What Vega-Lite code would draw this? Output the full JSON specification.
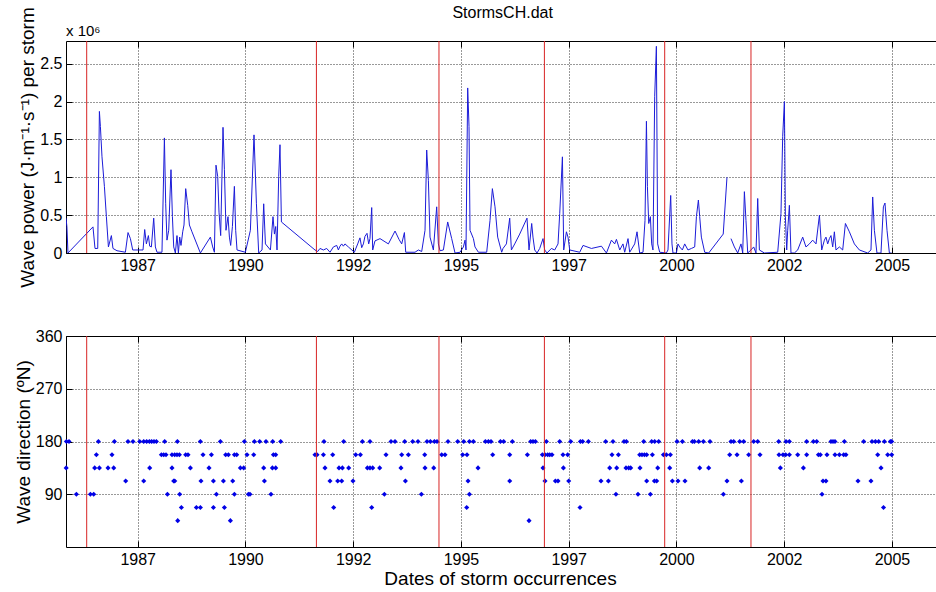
{
  "$schema": "https://vega.github.io/schema/vega-lite/v6.json",
  "background": "white",
  "padding": {"left": 13, "top": 5, "right": 0, "bottom": 0},
  "title": {"text": "StormsCH.dat", "fontSize": 16, "fontWeight": "normal", "font": "Liberation Sans", "color": "#000", "anchor": "middle", "baseline": "alphabetic", "dx": 27, "offset": -28},
  "bounds": "flush",
  "spacing": 83,
  "datasets": {
    "power": [
      {"year": 1985.836, "power": 460000}, {"year": 1985.857, "power": 350000}, {"year": 1985.882, "power": 0},
      {"year": 1986.462, "power": 345000}, {"year": 1986.509, "power": 60000}, {"year": 1986.572, "power": 60000},
      {"year": 1986.611, "power": 1870000}, {"year": 1986.634, "power": 1670000}, {"year": 1986.671, "power": 1270000},
      {"year": 1986.727, "power": 880000}, {"year": 1986.773, "power": 480000}, {"year": 1986.820, "power": 80000},
      {"year": 1986.889, "power": 230000}, {"year": 1986.926, "power": 60000}, {"year": 1987.019, "power": 30000},
      {"year": 1987.214, "power": 10000}, {"year": 1987.275, "power": 270000}, {"year": 1987.330, "power": 190000},
      {"year": 1987.384, "power": 40000}, {"year": 1987.523, "power": 40000}, {"year": 1987.623, "power": 40000},
      {"year": 1987.662, "power": 310000}, {"year": 1987.701, "power": 120000}, {"year": 1987.748, "power": 230000},
      {"year": 1987.778, "power": 90000}, {"year": 1987.817, "power": 80000}, {"year": 1987.871, "power": 460000},
      {"year": 1987.910, "power": 80000}, {"year": 1987.947, "power": 10000}, {"year": 1988.063, "power": 10000},
      {"year": 1988.119, "power": 1520000}, {"year": 1988.149, "power": 650000}, {"year": 1988.179, "power": 170000},
      {"year": 1988.219, "power": 300000}, {"year": 1988.272, "power": 1100000}, {"year": 1988.305, "power": 480000},
      {"year": 1988.335, "power": 80000}, {"year": 1988.374, "power": 0}, {"year": 1988.411, "power": 230000},
      {"year": 1988.444, "power": 0}, {"year": 1988.474, "power": 210000}, {"year": 1988.504, "power": 100000},
      {"year": 1988.544, "power": 280000}, {"year": 1988.574, "power": 370000}, {"year": 1988.613, "power": 850000},
      {"year": 1988.660, "power": 630000}, {"year": 1988.699, "power": 370000}, {"year": 1988.759, "power": 280000},
      {"year": 1988.954, "power": 0}, {"year": 1989.186, "power": 210000}, {"year": 1989.240, "power": 80000},
      {"year": 1989.279, "power": 10000}, {"year": 1989.316, "power": 1160000}, {"year": 1989.356, "power": 1010000},
      {"year": 1989.386, "power": 540000}, {"year": 1989.425, "power": 230000}, {"year": 1989.479, "power": 1660000},
      {"year": 1989.511, "power": 1100000}, {"year": 1989.548, "power": 300000}, {"year": 1989.595, "power": 480000},
      {"year": 1989.627, "power": 210000}, {"year": 1989.657, "power": 100000}, {"year": 1989.697, "power": 350000},
      {"year": 1989.743, "power": 880000}, {"year": 1989.773, "power": 300000}, {"year": 1989.804, "power": 40000},
      {"year": 1989.998, "power": 10000}, {"year": 1990.114, "power": 300000}, {"year": 1990.198, "power": 1560000},
      {"year": 1990.254, "power": 650000}, {"year": 1990.307, "power": 0}, {"year": 1990.384, "power": 40000},
      {"year": 1990.423, "power": 650000}, {"year": 1990.463, "power": 120000}, {"year": 1990.579, "power": 40000},
      {"year": 1990.639, "power": 480000}, {"year": 1990.672, "power": 250000}, {"year": 1990.702, "power": 350000},
      {"year": 1990.732, "power": 40000}, {"year": 1990.771, "power": 1010000}, {"year": 1990.801, "power": 1430000},
      {"year": 1990.834, "power": 410000}, {"year": 1991.613, "power": 40000}, {"year": 1991.676, "power": 20000},
      {"year": 1991.729, "power": 60000}, {"year": 1991.808, "power": 40000}, {"year": 1991.885, "power": 60000},
      {"year": 1991.961, "power": 10000}, {"year": 1992.040, "power": 80000}, {"year": 1992.117, "power": 100000},
      {"year": 1992.156, "power": 40000}, {"year": 1992.193, "power": 90000}, {"year": 1992.233, "power": 120000},
      {"year": 1992.272, "power": 90000}, {"year": 1992.309, "power": 120000}, {"year": 1992.388, "power": 80000},
      {"year": 1992.527, "power": 10000}, {"year": 1992.604, "power": 120000}, {"year": 1992.657, "power": 200000},
      {"year": 1992.697, "power": 70000}, {"year": 1992.736, "power": 120000}, {"year": 1992.773, "power": 220000},
      {"year": 1992.820, "power": 260000}, {"year": 1992.859, "power": 120000}, {"year": 1992.889, "power": 190000},
      {"year": 1992.929, "power": 600000}, {"year": 1992.952, "power": 40000}, {"year": 1993.005, "power": 160000},
      {"year": 1993.122, "power": 190000}, {"year": 1993.316, "power": 120000}, {"year": 1993.470, "power": 290000},
      {"year": 1993.562, "power": 180000}, {"year": 1993.625, "power": 120000}, {"year": 1993.688, "power": 270000},
      {"year": 1993.718, "power": 10000}, {"year": 1993.934, "power": 10000}, {"year": 1994.012, "power": 40000},
      {"year": 1994.089, "power": 20000}, {"year": 1994.166, "power": 300000}, {"year": 1994.205, "power": 1360000},
      {"year": 1994.244, "power": 960000}, {"year": 1994.282, "power": 210000}, {"year": 1994.360, "power": 40000},
      {"year": 1994.437, "power": 610000}, {"year": 1994.476, "power": 120000}, {"year": 1994.514, "power": 30000},
      {"year": 1994.592, "power": 40000}, {"year": 1994.692, "power": 410000}, {"year": 1994.785, "power": 190000},
      {"year": 1994.862, "power": 0}, {"year": 1994.978, "power": 10000}, {"year": 1995.057, "power": 80000},
      {"year": 1995.094, "power": 170000}, {"year": 1995.117, "power": 40000}, {"year": 1995.156, "power": 2180000},
      {"year": 1995.187, "power": 1670000}, {"year": 1995.210, "power": 300000}, {"year": 1995.289, "power": 190000},
      {"year": 1995.326, "power": 80000}, {"year": 1995.405, "power": 10000}, {"year": 1995.597, "power": 10000},
      {"year": 1995.674, "power": 430000}, {"year": 1995.729, "power": 850000}, {"year": 1995.790, "power": 610000},
      {"year": 1995.852, "power": 210000}, {"year": 1995.945, "power": 10000}, {"year": 1995.975, "power": 60000},
      {"year": 1996.054, "power": 120000}, {"year": 1996.131, "power": 460000}, {"year": 1996.170, "power": 40000},
      {"year": 1996.247, "power": 120000}, {"year": 1996.363, "power": 250000}, {"year": 1996.532, "power": 460000},
      {"year": 1996.579, "power": 40000}, {"year": 1996.641, "power": 390000}, {"year": 1996.671, "power": 210000},
      {"year": 1996.711, "power": 40000}, {"year": 1996.764, "power": 0}, {"year": 1996.827, "power": 60000},
      {"year": 1996.904, "power": 190000}, {"year": 1996.943, "power": 40000}, {"year": 1996.996, "power": 0},
      {"year": 1997.098, "power": 60000}, {"year": 1997.175, "power": 40000}, {"year": 1997.252, "power": 120000},
      {"year": 1997.291, "power": 520000}, {"year": 1997.354, "power": 1270000}, {"year": 1997.384, "power": 40000},
      {"year": 1997.447, "power": 280000}, {"year": 1997.484, "power": 210000}, {"year": 1997.523, "power": 40000},
      {"year": 1997.755, "power": 10000}, {"year": 1997.832, "power": 100000}, {"year": 1998.027, "power": 60000},
      {"year": 1998.259, "power": 90000}, {"year": 1998.375, "power": 0}, {"year": 1998.491, "power": 170000},
      {"year": 1998.567, "power": 120000}, {"year": 1998.607, "power": 180000}, {"year": 1998.684, "power": 40000},
      {"year": 1998.759, "power": 120000}, {"year": 1998.799, "power": 10000}, {"year": 1998.876, "power": 190000},
      {"year": 1998.915, "power": 10000}, {"year": 1999.031, "power": 120000}, {"year": 1999.085, "power": 280000},
      {"year": 1999.147, "power": 0}, {"year": 1999.224, "power": 10000}, {"year": 1999.270, "power": 430000},
      {"year": 1999.303, "power": 1740000}, {"year": 1999.326, "power": 880000}, {"year": 1999.356, "power": 390000},
      {"year": 1999.395, "power": 480000}, {"year": 1999.425, "power": 120000}, {"year": 1999.455, "power": 40000},
      {"year": 1999.495, "power": 2070000}, {"year": 1999.534, "power": 2730000}, {"year": 1999.564, "power": 120000},
      {"year": 1999.611, "power": 10000}, {"year": 1999.766, "power": 0}, {"year": 1999.803, "power": 40000},
      {"year": 1999.866, "power": 760000}, {"year": 1999.896, "power": 120000}, {"year": 1999.919, "power": 0},
      {"year": 1999.998, "power": 0}, {"year": 2000.035, "power": 120000}, {"year": 2000.075, "power": 80000},
      {"year": 2000.137, "power": 40000}, {"year": 2000.191, "power": 120000}, {"year": 2000.267, "power": 40000},
      {"year": 2000.346, "power": 60000}, {"year": 2000.423, "power": 80000}, {"year": 2000.463, "power": 480000},
      {"year": 2000.509, "power": 700000}, {"year": 2000.539, "power": 480000}, {"year": 2000.578, "power": 210000},
      {"year": 2000.655, "power": 10000}, {"year": 2000.748, "power": 0}, {"year": 2001.085, "power": 250000},
      {"year": 2001.172, "power": 1000000}, {"year": 2001.22, "power": null}, {"year": 2001.265, "power": 190000},
      {"year": 2001.344, "power": 80000}, {"year": 2001.421, "power": 0}, {"year": 2001.497, "power": 120000},
      {"year": 2001.537, "power": 0}, {"year": 2001.576, "power": 810000}, {"year": 2001.613, "power": 430000},
      {"year": 2001.653, "power": 0}, {"year": 2001.729, "power": 40000}, {"year": 2001.792, "power": 80000},
      {"year": 2001.845, "power": 0}, {"year": 2001.885, "power": 720000}, {"year": 2001.924, "power": 40000},
      {"year": 2002.040, "power": 0}, {"year": 2002.349, "power": 10000}, {"year": 2002.425, "power": 520000},
      {"year": 2002.465, "power": 1540000}, {"year": 2002.504, "power": 2000000}, {"year": 2002.527, "power": 480000},
      {"year": 2002.558, "power": 40000}, {"year": 2002.581, "power": 300000}, {"year": 2002.620, "power": 630000},
      {"year": 2002.657, "power": 0}, {"year": 2002.736, "power": 0}, {"year": 2002.813, "power": 40000},
      {"year": 2002.929, "power": 210000}, {"year": 2003.005, "power": 80000}, {"year": 2003.084, "power": 120000},
      {"year": 2003.161, "power": 170000}, {"year": 2003.238, "power": 120000}, {"year": 2003.317, "power": 500000},
      {"year": 2003.370, "power": 40000}, {"year": 2003.432, "power": 170000}, {"year": 2003.469, "power": 210000},
      {"year": 2003.509, "power": 120000}, {"year": 2003.548, "power": 190000}, {"year": 2003.585, "power": 230000},
      {"year": 2003.625, "power": 80000}, {"year": 2003.664, "power": 280000}, {"year": 2003.701, "power": 40000},
      {"year": 2003.780, "power": 80000}, {"year": 2003.857, "power": 40000}, {"year": 2003.920, "power": 390000},
      {"year": 2004.012, "power": 280000}, {"year": 2004.128, "power": 120000}, {"year": 2004.244, "power": 40000},
      {"year": 2004.437, "power": 0}, {"year": 2004.513, "power": 40000}, {"year": 2004.553, "power": 740000},
      {"year": 2004.592, "power": 300000}, {"year": 2004.652, "power": 0}, {"year": 2004.745, "power": 0},
      {"year": 2004.801, "power": 610000}, {"year": 2004.838, "power": 660000}, {"year": 2004.885, "power": 300000},
      {"year": 2004.940, "power": 0}, {"year": 2004.993, "power": 0}
    ],
    "direction": [
      {"year": 1985.845, "dir": 180}, {"year": 1985.906, "dir": 180}, {"year": 1986.588, "dir": 180},
      {"year": 1986.959, "dir": 180}, {"year": 1987.274, "dir": 180}, {"year": 1987.390, "dir": 180},
      {"year": 1987.546, "dir": 180}, {"year": 1987.639, "dir": 180}, {"year": 1987.708, "dir": 180},
      {"year": 1987.771, "dir": 180}, {"year": 1987.824, "dir": 180}, {"year": 1987.878, "dir": 180},
      {"year": 1987.933, "dir": 180}, {"year": 1988.126, "dir": 180}, {"year": 1988.421, "dir": 180},
      {"year": 1988.954, "dir": 180}, {"year": 1989.418, "dir": 180}, {"year": 1989.975, "dir": 180},
      {"year": 1990.207, "dir": 180}, {"year": 1990.330, "dir": 180}, {"year": 1990.476, "dir": 180},
      {"year": 1990.632, "dir": 180}, {"year": 1990.817, "dir": 180}, {"year": 1991.822, "dir": 180},
      {"year": 1992.279, "dir": 180}, {"year": 1992.713, "dir": 180}, {"year": 1992.889, "dir": 180},
      {"year": 1993.377, "dir": 180}, {"year": 1993.470, "dir": 180}, {"year": 1993.695, "dir": 180},
      {"year": 1993.880, "dir": 180}, {"year": 1994.003, "dir": 180}, {"year": 1994.212, "dir": 180},
      {"year": 1994.291, "dir": 180}, {"year": 1994.384, "dir": 180}, {"year": 1994.444, "dir": 180},
      {"year": 1994.699, "dir": 180}, {"year": 1994.924, "dir": 180}, {"year": 1995.064, "dir": 180},
      {"year": 1995.196, "dir": 180}, {"year": 1995.289, "dir": 180}, {"year": 1995.567, "dir": 180},
      {"year": 1995.637, "dir": 180}, {"year": 1995.697, "dir": 180}, {"year": 1995.915, "dir": 180},
      {"year": 1995.991, "dir": 180}, {"year": 1996.193, "dir": 180}, {"year": 1996.618, "dir": 180},
      {"year": 1996.671, "dir": 180}, {"year": 1996.727, "dir": 180}, {"year": 1996.982, "dir": 180},
      {"year": 1997.291, "dir": 180}, {"year": 1997.546, "dir": 180}, {"year": 1997.771, "dir": 180},
      {"year": 1997.824, "dir": 180}, {"year": 1997.957, "dir": 180}, {"year": 1998.358, "dir": 180},
      {"year": 1998.527, "dir": 180}, {"year": 1998.783, "dir": 180}, {"year": 1998.838, "dir": 180},
      {"year": 1999.240, "dir": 180}, {"year": 1999.425, "dir": 180}, {"year": 1999.495, "dir": 180},
      {"year": 1999.588, "dir": 180}, {"year": 2000.013, "dir": 180}, {"year": 2000.138, "dir": 180},
      {"year": 2000.370, "dir": 180}, {"year": 2000.416, "dir": 180}, {"year": 2000.516, "dir": 180},
      {"year": 2000.625, "dir": 180}, {"year": 2000.778, "dir": 180}, {"year": 2001.265, "dir": 180},
      {"year": 2001.328, "dir": 180}, {"year": 2001.467, "dir": 180}, {"year": 2001.560, "dir": 180},
      {"year": 2001.792, "dir": 180}, {"year": 2001.885, "dir": 180}, {"year": 2002.372, "dir": 180},
      {"year": 2002.541, "dir": 180}, {"year": 2002.620, "dir": 180}, {"year": 2003.021, "dir": 180},
      {"year": 2003.177, "dir": 180}, {"year": 2003.254, "dir": 180}, {"year": 2003.585, "dir": 180},
      {"year": 2003.632, "dir": 180}, {"year": 2003.678, "dir": 180}, {"year": 2003.896, "dir": 180},
      {"year": 2004.344, "dir": 180}, {"year": 2004.537, "dir": 180}, {"year": 2004.616, "dir": 180},
      {"year": 2004.692, "dir": 180}, {"year": 2004.824, "dir": 180}, {"year": 2004.963, "dir": 180},
      {"year": 2004.994, "dir": 180},
      {"year": 1986.541, "dir": 157.5}, {"year": 1986.903, "dir": 157.5}, {"year": 1988.049, "dir": 157.5},
      {"year": 1988.103, "dir": 157.5}, {"year": 1988.156, "dir": 157.5}, {"year": 1988.295, "dir": 157.5},
      {"year": 1988.358, "dir": 157.5}, {"year": 1988.411, "dir": 157.5}, {"year": 1988.467, "dir": 157.5},
      {"year": 1988.613, "dir": 157.5}, {"year": 1988.667, "dir": 157.5}, {"year": 1989.015, "dir": 157.5},
      {"year": 1989.210, "dir": 157.5}, {"year": 1989.541, "dir": 157.5}, {"year": 1989.604, "dir": 157.5},
      {"year": 1989.743, "dir": 157.5}, {"year": 1989.797, "dir": 157.5}, {"year": 1990.036, "dir": 157.5},
      {"year": 1990.191, "dir": 157.5}, {"year": 1990.648, "dir": 157.5}, {"year": 1990.702, "dir": 157.5},
      {"year": 1991.613, "dir": 157.5}, {"year": 1991.660, "dir": 157.5}, {"year": 1991.808, "dir": 157.5},
      {"year": 1992.024, "dir": 157.5}, {"year": 1992.558, "dir": 157.5}, {"year": 1992.667, "dir": 157.5},
      {"year": 1993.261, "dir": 157.5}, {"year": 1993.625, "dir": 157.5}, {"year": 1993.780, "dir": 157.5},
      {"year": 1994.159, "dir": 157.5}, {"year": 1994.553, "dir": 157.5}, {"year": 1994.630, "dir": 157.5},
      {"year": 1995.040, "dir": 157.5}, {"year": 1995.140, "dir": 157.5}, {"year": 1995.736, "dir": 157.5},
      {"year": 1996.131, "dir": 157.5}, {"year": 1996.541, "dir": 157.5}, {"year": 1996.889, "dir": 157.5},
      {"year": 1996.950, "dir": 157.5}, {"year": 1997.012, "dir": 157.5}, {"year": 1997.059, "dir": 157.5},
      {"year": 1997.112, "dir": 157.5}, {"year": 1997.367, "dir": 157.5}, {"year": 1997.476, "dir": 157.5},
      {"year": 1998.504, "dir": 157.5}, {"year": 1998.653, "dir": 157.5}, {"year": 1999.147, "dir": 157.5},
      {"year": 1999.200, "dir": 157.5}, {"year": 1999.256, "dir": 157.5}, {"year": 1999.309, "dir": 157.5},
      {"year": 1999.441, "dir": 157.5}, {"year": 1999.697, "dir": 157.5}, {"year": 1999.766, "dir": 157.5},
      {"year": 1999.859, "dir": 157.5}, {"year": 2001.235, "dir": 157.5}, {"year": 2001.405, "dir": 157.5},
      {"year": 2001.676, "dir": 157.5}, {"year": 2001.938, "dir": 157.5}, {"year": 2002.379, "dir": 157.5},
      {"year": 2002.472, "dir": 157.5}, {"year": 2002.534, "dir": 157.5}, {"year": 2002.620, "dir": 157.5},
      {"year": 2002.813, "dir": 157.5}, {"year": 2003.021, "dir": 157.5}, {"year": 2003.293, "dir": 157.5},
      {"year": 2003.339, "dir": 157.5}, {"year": 2003.492, "dir": 157.5}, {"year": 2003.678, "dir": 157.5},
      {"year": 2003.780, "dir": 157.5}, {"year": 2003.880, "dir": 157.5}, {"year": 2003.933, "dir": 157.5},
      {"year": 2004.669, "dir": 157.5}, {"year": 2004.901, "dir": 157.5}, {"year": 2004.994, "dir": 157.5},
      {"year": 1985.84, "dir": 135}, {"year": 1986.502, "dir": 135}, {"year": 1986.611, "dir": 135},
      {"year": 1986.811, "dir": 135}, {"year": 1986.943, "dir": 135}, {"year": 1987.778, "dir": 135},
      {"year": 1988.295, "dir": 135}, {"year": 1988.722, "dir": 135}, {"year": 1989.154, "dir": 135},
      {"year": 1989.882, "dir": 135}, {"year": 1989.959, "dir": 135}, {"year": 1990.423, "dir": 135},
      {"year": 1990.625, "dir": 135}, {"year": 1990.702, "dir": 135}, {"year": 1991.845, "dir": 135},
      {"year": 1992.170, "dir": 135}, {"year": 1992.249, "dir": 135}, {"year": 1992.395, "dir": 135},
      {"year": 1992.829, "dir": 135}, {"year": 1992.889, "dir": 135}, {"year": 1992.952, "dir": 135},
      {"year": 1993.114, "dir": 135}, {"year": 1993.608, "dir": 135}, {"year": 1994.166, "dir": 135},
      {"year": 1994.368, "dir": 135}, {"year": 1995.396, "dir": 135}, {"year": 1996.904, "dir": 135},
      {"year": 1997.377, "dir": 135}, {"year": 1998.451, "dir": 135}, {"year": 1998.613, "dir": 135},
      {"year": 1998.829, "dir": 135}, {"year": 1998.892, "dir": 135}, {"year": 1998.938, "dir": 135},
      {"year": 1999.154, "dir": 135}, {"year": 1999.565, "dir": 135}, {"year": 1999.843, "dir": 135},
      {"year": 2000.539, "dir": 135}, {"year": 2000.748, "dir": 135}, {"year": 2002.411, "dir": 135},
      {"year": 2002.945, "dir": 135}, {"year": 2004.746, "dir": 135},
      {"year": 1987.221, "dir": 112.5}, {"year": 1987.639, "dir": 112.5}, {"year": 1988.335, "dir": 112.5},
      {"year": 1988.359, "dir": 112.5}, {"year": 1988.968, "dir": 112.5}, {"year": 1989.256, "dir": 112.5},
      {"year": 1989.488, "dir": 112.5}, {"year": 1989.704, "dir": 112.5}, {"year": 1990.439, "dir": 112.5},
      {"year": 1991.961, "dir": 112.5}, {"year": 1992.140, "dir": 112.5}, {"year": 1992.233, "dir": 112.5},
      {"year": 1992.495, "dir": 112.5}, {"year": 1993.711, "dir": 112.5}, {"year": 1995.164, "dir": 112.5},
      {"year": 1996.131, "dir": 112.5}, {"year": 1996.950, "dir": 112.5}, {"year": 1997.191, "dir": 112.5},
      {"year": 1997.252, "dir": 112.5}, {"year": 1997.500, "dir": 112.5}, {"year": 1998.249, "dir": 112.5},
      {"year": 1998.421, "dir": 112.5}, {"year": 1999.309, "dir": 112.5}, {"year": 1999.488, "dir": 112.5},
      {"year": 1999.541, "dir": 112.5}, {"year": 1999.905, "dir": 112.5}, {"year": 2000.035, "dir": 112.5},
      {"year": 2000.198, "dir": 112.5}, {"year": 2001.172, "dir": 112.5}, {"year": 2001.506, "dir": 112.5},
      {"year": 2003.400, "dir": 112.5}, {"year": 2003.469, "dir": 112.5}, {"year": 2004.212, "dir": 112.5},
      {"year": 2004.513, "dir": 112.5},
      {"year": 1986.077, "dir": 90}, {"year": 1986.402, "dir": 90}, {"year": 1986.479, "dir": 90},
      {"year": 1988.189, "dir": 90}, {"year": 1988.474, "dir": 90}, {"year": 1989.326, "dir": 90},
      {"year": 1989.743, "dir": 90}, {"year": 1990.068, "dir": 90}, {"year": 1990.105, "dir": 90},
      {"year": 1990.592, "dir": 90}, {"year": 1993.223, "dir": 90}, {"year": 1994.082, "dir": 90},
      {"year": 1995.196, "dir": 90}, {"year": 1998.596, "dir": 90}, {"year": 1999.107, "dir": 90},
      {"year": 1999.395, "dir": 90}, {"year": 2001.089, "dir": 90}, {"year": 2003.377, "dir": 90},
      {"year": 1988.513, "dir": 67.5}, {"year": 1988.861, "dir": 67.5}, {"year": 1988.954, "dir": 67.5},
      {"year": 1989.256, "dir": 67.5}, {"year": 1989.511, "dir": 67.5}, {"year": 1992.047, "dir": 67.5},
      {"year": 1992.929, "dir": 67.5}, {"year": 1995.133, "dir": 67.5}, {"year": 1997.762, "dir": 67.5},
      {"year": 2004.804, "dir": 67.5},
      {"year": 1988.428, "dir": 45}, {"year": 1989.650, "dir": 45}, {"year": 1996.579, "dir": 45}
    ],
    "events": [
      {"year": 1986.316}, {"year": 1991.646}, {"year": 1994.490},
      {"year": 1996.936}, {"year": 1999.727}, {"year": 2001.729}
    ]
  },
  "vconcat": [
    {
      "width": 871,
      "height": 212,
      "title": {"text": "x 10⁶", "anchor": "start", "frame": "group", "baseline": "alphabetic", "fontSize": 15, "fontWeight": "normal", "font": "Liberation Sans", "color": "#000", "offset": -44},
      "layer": [
        {
          "data": {"name": "power"},
          "mark": {"type": "line", "color": "#1c1cd8", "strokeWidth": 1, "invalid": "break-paths-filter-domains", "clip": true},
          "encoding": {
            "x": {
              "field": "year", "type": "quantitative",
              "scale": {"domain": [1985.836, 2006.045], "nice": false, "zero": false},
              "axis": {"values": [1987.5, 1990, 1992.5, 1995, 1997.5, 2000, 2002.5, 2005], "labelExpr": "floor(datum.value)", "title": null, "orient": "bottom"}
            },
            "y": {
              "field": "power", "type": "quantitative",
              "scale": {"domain": [0, 2800000], "nice": false},
              "axis": {"values": [0, 500000, 1000000, 1500000, 2000000, 2500000], "labelExpr": "format(datum.value / 1000000, '.1~f')", "title": "Wave power (J·m⁻¹·s⁻¹) per storm"}
            }
          }
        },
        {
          "data": {"name": "events"},
          "mark": {"type": "rule", "color": "#d82424", "strokeWidth": 1},
          "encoding": {
            "x": {"field": "year", "type": "quantitative", "axis": {"orient": "top", "values": [1987.5, 1990, 1992.5, 1995, 1997.5, 2000, 2002.5, 2005], "labels": false, "grid": false, "title": null}}
          }
        }
      ],
      "resolve": {"axis": {"x": "independent"}}
    },
    {
      "width": 871,
      "height": 211,
      "layer": [
        {
          "data": {"name": "direction"},
          "mark": {"type": "point", "shape": "diamond", "filled": true, "size": 26, "color": "#0000e6", "opacity": 1},
          "encoding": {
            "x": {
              "field": "year", "type": "quantitative",
              "scale": {"domain": [1985.836, 2006.045], "nice": false, "zero": false},
              "axis": {"values": [1987.5, 1990, 1992.5, 1995, 1997.5, 2000, 2002.5, 2005], "labelExpr": "floor(datum.value)", "title": "Dates of storm occurrences", "titleX": 434, "orient": "bottom"}
            },
            "y": {
              "field": "dir", "type": "quantitative",
              "scale": {"domain": [0, 360], "nice": false},
              "axis": {"values": [90, 180, 270, 360], "title": "Wave direction (ºN)"}
            }
          }
        },
        {
          "data": {"name": "events"},
          "mark": {"type": "rule", "color": "#d82424", "strokeWidth": 1},
          "encoding": {
            "x": {"field": "year", "type": "quantitative", "axis": {"orient": "top", "values": [1987.5, 1990, 1992.5, 1995, 1997.5, 2000, 2002.5, 2005], "labels": false, "grid": false, "title": null}}
          }
        }
      ],
      "resolve": {"axis": {"x": "independent"}}
    }
  ],
  "config": {
    "font": "Liberation Sans",
    "view": {"stroke": "#000", "strokeWidth": 1},
    "axis": {
      "labelFont": "Liberation Sans",
      "labelFontSize": 16,
      "labelColor": "#000",
      "titleFont": "Liberation Sans",
      "titleFontSize": 19,
      "titleFontWeight": "normal",
      "titleColor": "#000",
      "titlePadding": 2,
      "domain": false,
      "ticks": true,
      "tickColor": "#000",
      "tickSize": -6,
      "labelPadding": 10,
      "grid": true,
      "gridColor": "#000",
      "gridDash": [1, 2],
      "gridOpacity": 0.8
    }
  }
}
